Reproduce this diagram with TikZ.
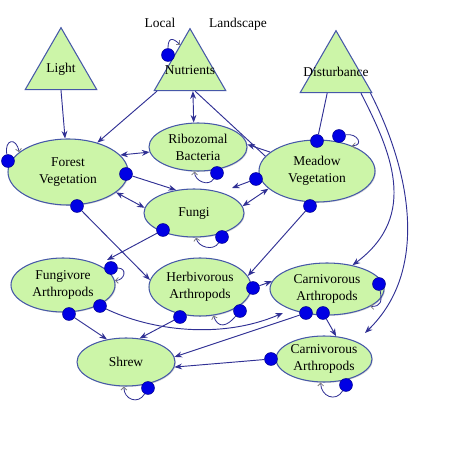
\documentclass[tikz,border=0pt]{standalone}
\usepackage{fontspec}
\setmainfont{Liberation Serif}
\usetikzlibrary{shapes.geometric,arrows.meta,shadows,calc}
\definecolor{leaf}{RGB}{204,245,168}
\definecolor{rim}{RGB}{70,88,168}
\definecolor{wire}{RGB}{48,48,148}
\definecolor{dotblue}{RGB}{0,0,228}
\begin{document}
\begin{tikzpicture}[x=0.03cm,y=0.03cm,>={Stealth[length=6.5pt,width=5pt]},
	eco/.style={ellipse,draw=rim,fill=leaf,line width=0.9pt,inner sep=0pt,align=center,font=\fontsize{11.5}{14.5}\selectfont,drop shadow={shadow xshift=0.8pt,shadow yshift=-0.8pt,opacity=0.3}},
	tri/.style={regular polygon,regular polygon sides=3,draw=rim,fill=leaf,line width=0.9pt,minimum size=2.48cm,inner sep=0pt},
	lbl/.style={font=\fontsize{11.5}{14}\selectfont,inner sep=0pt},
	blob/.style={circle,fill=dotblue,draw=dotblue!60!black,line width=0.4pt,minimum size=0.39cm,inner sep=0pt},
	link/.style={draw=wire,line width=0.8pt},
	self/.style={draw=wire,line width=0.7pt,-{Straight Barb[length=2.5pt,width=5pt,color=gray]}}]
	\useasboundingbox (0,0) rectangle (468,468);
	% drivers
	\node[tri] (light) at (61,399) {};
	\node[tri] (nutrients) at (190,398) {};
	\node[tri] (dist) at (336,396) {};
	\node[lbl] (lightlbl) at (light) {Light};
	\node[lbl] (nutlbl) at (nutrients) {Nutrients};
	\node[lbl] (distlbl) at (dist) {Disturbance};
	\node[lbl] (local) at (160,445) {Local};
	\node[lbl] (landscape) at (238,444) {Landscape};
	% compartments
	\node[eco,minimum width=3.6cm,minimum height=1.98cm] (forest) at (68,296) {Forest\\Vegetation};
	\node[eco,minimum width=2.94cm,minimum height=1.44cm] (ribo) at (198,321) {Ribozomal\\Bacteria};
	\node[eco,minimum width=3.48cm,minimum height=1.86cm] (meadow) at (317,297) {Meadow\\Vegetation};
	\node[eco,minimum width=3.0cm,minimum height=1.44cm] (fungi) at (194,255) {Fungi};
	\node[eco,minimum width=3.12cm,minimum height=1.62cm] (fungiv) at (63,183) {Fungivore\\Arthropods};
	\node[eco,minimum width=3.06cm,minimum height=1.74cm] (herb) at (200,181) {Herbivorous\\Arthropods};
	\node[eco,minimum width=3.42cm,minimum height=1.56cm] (carn) at (327,179) {Carnivorous\\Arthropods};
	\node[eco,minimum width=2.94cm,minimum height=1.44cm] (shrew) at (126,106) {Shrew};
	\node[eco,minimum width=2.88cm,minimum height=1.38cm] (carntwo) at (324,109) {Carnivorous\\Arthropods};
	% dots
	\node[blob] (d_nut) at (168,413) {};
	\node[blob] (d_for1) at (8,307) {};
	\node[blob] (d_for2) at (126,294) {};
	\node[blob] (d_for3) at (77,262) {};
	\node[blob] (d_rib) at (217,295) {};
	\node[blob] (d_mea1) at (317,327) {};
	\node[blob] (d_mea2) at (339,332) {};
	\node[blob] (d_mea3) at (256,289) {};
	\node[blob] (d_mea4) at (310,262) {};
	\node[blob] (d_fun1) at (163,238) {};
	\node[blob] (d_fun2) at (222,231) {};
	\node[blob] (d_fgv1) at (111,200) {};
	\node[blob] (d_fgv2) at (100,162) {};
	\node[blob] (d_fgv3) at (69,154) {};
	\node[blob] (d_her1) at (253,180) {};
	\node[blob] (d_her2) at (240,157) {};
	\node[blob] (d_her3) at (180,151) {};
	\node[blob] (d_car1) at (379,184) {};
	\node[blob] (d_car2) at (306,155) {};
	\node[blob] (d_car3) at (323,155) {};
	\node[blob] (d_shr) at (148,80) {};
	\node[blob] (d_ct1) at (271,109) {};
	\node[blob] (d_ct2) at (346,83) {};
	\coordinate (fuin) at (232,280);
	\coordinate (fgvin) at (107,208);
	\coordinate (cin) at (283,155);
	\coordinate (ctin) at (365,135);
	% links
	\draw[link,->] (light.south) -- (forest.95);
	\draw[link,->] ($(nutrients.corner 2)!0.05!(nutrients.corner 3)$) -- (forest.45);
	\draw[link,<->] ($(nutrients.corner 2)!0.54!(nutrients.corner 3)$) -- (ribo.100);
	\draw[link] ($(nutrients.corner 2)!0.57!(nutrients.corner 3)$) -- (meadow.164);
	\draw[link,->] (meadow.158) -- (ribo.3);
	\draw[link,<->] (forest.18) -- (ribo.186);
	\draw[link,->] (d_for2) -- (fungi.128);
	\draw[link,<->] (forest.337) -- (fungi.174);
	\draw[link,->] (d_for3) -- (herb.172);
	\draw[link,->] (d_mea3) -- (fuin);
	\draw[link,<->] (meadow.200) -- (fungi.8);
	\draw[link,->] (d_mea4) -- (herb.13);
	\draw[link,->] (d_fun1) -- (fgvin);
	\draw[link] ($(dist.corner 2)!0.38!(dist.corner 3)$) -- (d_mea1);
	\draw[link,->] ($(dist.corner 2)!0.84!(dist.corner 3)$) .. controls (390,318) and (420,253) .. (carn.43);
	\draw[link,->] ($(dist.corner 2)!0.97!(dist.corner 3)$) .. controls (410,298) and (430,198) .. (ctin);
	\draw[link,->] (d_car3) -- (carntwo.62);
	\draw[link,->] (d_car2) -- (shrew.6);
	\draw[link,->] (d_ct1) -- (shrew.354);
	\draw[link,->] (d_fgv3) -- (shrew.130);
	\draw[link,->] (d_her3) -- (shrew.60);
	\draw[link,->] (d_fgv2) .. controls (150,138) and (220,128) .. (cin);
	\draw[link,->] (d_her1) -- (carn.172);
	% self loops
	\draw[self] (d_nut) to[out=90,in=135,looseness=2.2] ($(nutrients.corner 1)!0.27!(nutrients.corner 2)$);
	\draw[self] (d_for1) to[out=100,in=100,looseness=3.2] (forest.158);
	\draw[self] (d_rib) to[out=240,in=270,looseness=1.2] (ribo.262);
	\draw[self] (d_fun2) to[out=240,in=280,looseness=1.1] (fungi.275);
	\draw[self] (d_mea2) to[out=10,in=0,looseness=2.5] (meadow.36);
	\draw[self] (d_fgv1) to[out=0,in=0,looseness=2] (fungiv.5);
	\draw[self] (d_her2) to[out=230,in=290,looseness=1.6] (herb.295);
	\draw[self] (d_car1) to[out=280,in=0,looseness=1.5] (carn.338);
	\draw[self] (d_shr) to[out=240,in=270,looseness=1.5] (shrew.265);
	\draw[self] (d_ct2) to[out=240,in=270,looseness=1.5] (carntwo.262);
\end{tikzpicture}
\end{document}
